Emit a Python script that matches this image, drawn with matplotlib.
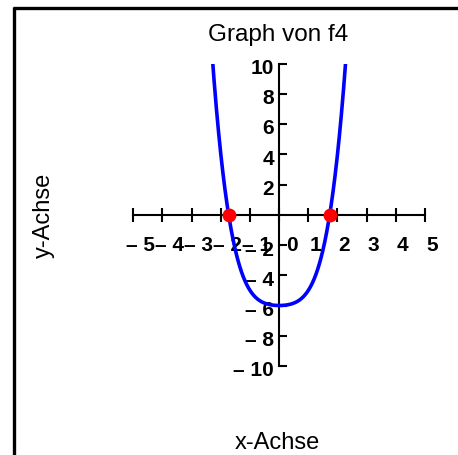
import numpy as np
import matplotlib
matplotlib.use("Agg")
import matplotlib.pyplot as plt
from matplotlib.lines import Line2D
from matplotlib.transforms import ScaledTranslation

# ---- data ----
title = "Graph von f4"
x_label = "x-Achse"
y_label = "y-Achse"
f4_coeffs = [0.5, 0.0, 0.5, 0.0, -6.0]   # f4(x) = 0.5x^4 + 0.5x^2 - 6
x_range = [-2.4, 2.4]
roots_x = [-1.732, 1.732]
roots_y = [0.0, 0.0]
x_ticks = [-5, -4, -3, -2, -1, 0, 1, 2, 3, 4, 5]
x_tick_labels = ["– 5", "– 4", "– 3", "– 2", "– 1", "0", "1", "2", "3", "4", "5"]
y_ticks = [-10, -8, -6, -4, -2, 2, 4, 6, 8, 10]
y_tick_labels = ["– 10", "– 8", "– 6", "– 4", "– 2", "2", "4", "6", "8", "10"]

plt.rcParams['font.family'] = ['Liberation Sans', 'DejaVu Sans']

W, H, DPI = 458, 455, 100
fig = plt.figure(figsize=(W / DPI, H / DPI), dpi=DPI)

left_px, right_px = 133.3, 425.0
top_px, bottom_px = 63.5, 366.0
ax = fig.add_axes([left_px / W, 1 - bottom_px / H,
                   (right_px - left_px) / W, (bottom_px - top_px) / H])
ax.set_xlim(-5, 5)
ax.set_ylim(-10, 10)
ax.patch.set_alpha(0)

for s in ['top', 'right']:
    ax.spines[s].set_visible(False)
ax.spines['left'].set_position('zero')
ax.spines['bottom'].set_position('zero')
ax.spines['left'].set_linewidth(1.5)
ax.spines['bottom'].set_linewidth(1.5)

xs = np.linspace(x_range[0], x_range[1], 400)
ys = np.polyval(f4_coeffs, xs)
ax.plot(xs, ys, color='#0000ff', lw=2.6, solid_capstyle='butt', zorder=3)
ax.plot(roots_x, roots_y, 'o', color='#ff0000', ms=10, mec='none', zorder=4,
        clip_on=False)

ax.set_xticks(x_ticks)
ax.set_xticklabels(x_tick_labels, fontsize=15, fontweight='bold')
ax.set_yticks(y_ticks)
ax.set_yticklabels(y_tick_labels, fontsize=15, fontweight='bold')
ax.tick_params(axis='x', direction='inout', length=10.5, width=1.5, pad=10)
ax.tick_params(axis='y', direction='in', length=5.5, width=1.5, pad=3.6)

for lab, v in zip(ax.get_xticklabels(), x_ticks):
    dx = 7 if v != 0 else 12.5
    lab.set_transform(lab.get_transform() + ScaledTranslation(dx / DPI, 0, fig.dpi_scale_trans))
for lab in ax.get_yticklabels():
    lab.set_transform(lab.get_transform() + ScaledTranslation(0, -3 / DPI, fig.dpi_scale_trans))

fig.text(278.5 / W, 1 - 41.3 / H, title, ha='center', va='baseline', fontsize=17.5)
fig.text(277.5 / W, 1 - 449 / H, x_label, ha='center', va='baseline', fontsize=17)
fig.text(44 / W, 1 - 215 / H, y_label, ha='center', va='center', rotation=90, fontsize=17)

# outer frame lines (top and left)
fig.add_artist(Line2D([12.7 / W, 1.0], [1 - 8.3 / H, 1 - 8.3 / H], color='black', lw=2.4,
                      transform=fig.transFigure, solid_capstyle='butt'))
fig.add_artist(Line2D([14.3 / W, 14.3 / W], [1 - 6.7 / H, 0.0], color='black', lw=2.4,
                      transform=fig.transFigure, solid_capstyle='butt'))

fig.savefig("out.png", dpi=DPI)
